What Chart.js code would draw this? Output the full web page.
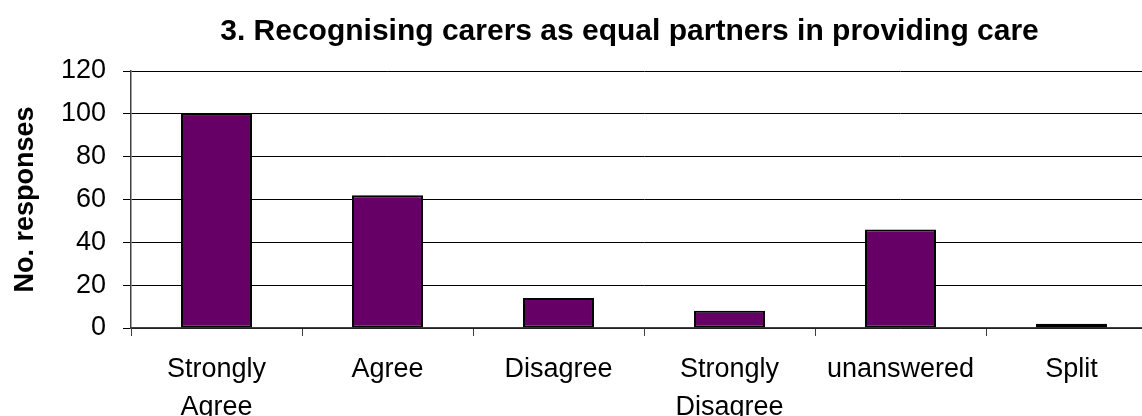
<!DOCTYPE html>
<html>
<head>
<meta charset="utf-8">
<script src="https://cdn.jsdelivr.net/npm/chart.js@4.4.1/dist/chart.umd.min.js"></script>
<style>
  html, body { margin: 0; padding: 0; background: #ffffff; overflow: hidden; width: 1142px; height: 416px; }
  #wrap { position: absolute; left: 0; top: 0; }
</style>
</head>
<body>
<div id="wrap"><canvas id="chart" width="1259" height="416"></canvas></div>
<script>
// Survey answers for question 3
const categories = [["Strongly", "Agree"], "Agree", "Disagree", ["Strongly", "Disagree"], "unanswered", "Split"];
const responses = [100, 62, 14, 8, 46, 2];
const yTicks = [0, 20, 40, 60, 80, 100, 120];

const chartTitle = "3. Recognising carers as equal partners in providing care";
const yTitle = "No. responses";

const FONT = "'Liberation Sans', Arial, sans-serif";

new Chart(document.getElementById('chart'), {
  type: 'bar',
  data: {
    labels: categories,
    datasets: [{
      data: responses,
      backgroundColor: '#660066',
      borderColor: '#000000',
      borderWidth: 2,
      borderSkipped: false,
      categoryPercentage: 1.0,
      barPercentage: 0.415
    }]
  },
  options: {
    responsive: false,
    animation: false,
    layout: { padding: 0 },
    plugins: {
      legend: { display: false },
      tooltip: { enabled: false },
      title: {
        display: true,
        text: chartTitle,
        color: '#000000',
        font: { family: FONT, size: 30, weight: 'bold', lineHeight: 1.2 },
        padding: { top: 14, bottom: 21 }
      }
    },
    scales: {
      x: {
        offset: true,
        grid: {
          offset: true,
          drawOnChartArea: false,
          drawTicks: true,
          tickLength: 8,
          color: '#404040',
          lineWidth: 1
        },
        border: { display: true, color: '#404040', width: 1.5 },
        ticks: {
          color: '#000000',
          padding: 15,
          maxRotation: 0,
          autoSkip: false,
          font: { family: FONT, size: 27, lineHeight: 38 / 27 }
        },
        afterFit: s => { s.height = 88; }
      },
      y: {
        min: 0,
        max: 120,
        afterBuildTicks: s => { s.ticks = yTicks.map(v => ({ value: v })); },
        grid: {
          color: '#000000',
          lineWidth: 1,
          drawTicks: true,
          tickLength: 8
        },
        border: { display: true, color: '#404040', width: 1.5 },
        ticks: {
          color: '#000000',
          padding: 17,
          font: { family: FONT, size: 27 }
        },
        title: {
          display: true,
          text: yTitle,
          color: '#000000',
          font: { family: FONT, size: 27, weight: 'bold', lineHeight: 1.2 },
          padding: { top: 9, bottom: 0 }
        },
        afterFit: s => { s.width = 131; }
      },
      yRight: {
        type: 'linear',
        position: 'right',
        display: true,
        grid: { display: false, drawOnChartArea: false },
        border: { display: false },
        ticks: { display: false },
        afterFit: s => { s.width = 102; }
      }
    }
  }
});
</script>
</body>
</html>
